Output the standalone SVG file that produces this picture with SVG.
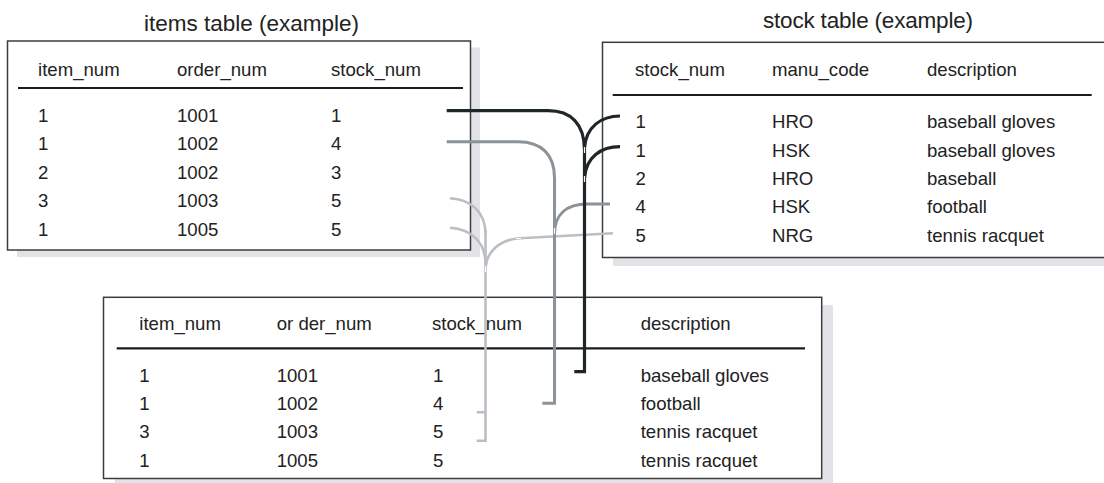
<svg xmlns="http://www.w3.org/2000/svg" width="1104" height="483" viewBox="0 0 1104 483">
<style>
  .t { font-family: "Liberation Sans", Arial, sans-serif; font-size: 18.6px; fill: #222; }
  .title { font-family: "Liberation Sans", Arial, sans-serif; font-size: 22.5px; fill: #222; }
  .box { fill: #fff; stroke: #3c3c3c; stroke-width: 1.5; }
  .shadow { fill: #e3e3e7; stroke: none; }
  .rule { stroke: #1c1c1c; stroke-width: 2.2; fill: none; }
  .c-dark { stroke: #1f2628; stroke-width: 3.2; fill: none; }
  .c-mid { stroke: #8b9298; stroke-width: 3; fill: none; }
  .c-light { stroke: #b9bfc5; stroke-width: 2.6; fill: none; }
  .gap { stroke: #fff; stroke-width: 1.2; fill: none; }
</style>
<rect width="1104" height="483" fill="#fff"/>

<g id="items-table">
  <text class="title" x="144" y="31" textLength="215" lengthAdjust="spacing">items table (example)</text>
  <rect class="shadow" x="17" y="47.5" width="463" height="209.5"/>
  <rect class="box" x="7.5" y="41" width="463" height="209"/>
  <text class="t" x="38" y="75.5">item_num</text>
  <text class="t" x="177" y="75.5">order_num</text>
  <text class="t" x="331" y="75.5">stock_num</text>
  <line class="rule" x1="18" y1="88" x2="463" y2="88"/>
  <text class="t" x="38" y="121.5">1</text><text class="t" x="177" y="121.5">1001</text><text class="t" x="331" y="121.5">1</text>
  <text class="t" x="38" y="150">1</text><text class="t" x="177" y="150">1002</text><text class="t" x="331" y="150">4</text>
  <text class="t" x="38" y="178.5">2</text><text class="t" x="177" y="178.5">1002</text><text class="t" x="331" y="178.5">3</text>
  <text class="t" x="38" y="207">3</text><text class="t" x="177" y="207">1003</text><text class="t" x="331" y="207">5</text>
  <text class="t" x="38" y="235.5">1</text><text class="t" x="177" y="235.5">1005</text><text class="t" x="331" y="235.5">5</text>
</g>

<g id="stock-table">
  <text class="title" x="763" y="28" textLength="210" lengthAdjust="spacing">stock table (example)</text>
  <rect class="shadow" x="613" y="50" width="520" height="216"/>
  <rect class="box" x="602.5" y="42.3" width="520" height="215.2"/>
  <text class="t" x="635" y="76">stock_num</text>
  <text class="t" x="772" y="76">manu_code</text>
  <text class="t" x="927" y="76">description</text>
  <line class="rule" x1="612.7" y1="95" x2="1091.7" y2="95"/>
  <text class="t" x="635.5" y="128.3">1</text><text class="t" x="772" y="128.3">HRO</text><text class="t" x="927" y="128.3">baseball gloves</text>
  <text class="t" x="635.5" y="156.7">1</text><text class="t" x="772" y="156.7">HSK</text><text class="t" x="927" y="156.7">baseball gloves</text>
  <text class="t" x="635.5" y="185">2</text><text class="t" x="772" y="185">HRO</text><text class="t" x="927" y="185">baseball</text>
  <text class="t" x="635.5" y="213.3">4</text><text class="t" x="772" y="213.3">HSK</text><text class="t" x="927" y="213.3">football</text>
  <text class="t" x="635.5" y="241.7">5</text><text class="t" x="772" y="241.7">NRG</text><text class="t" x="927" y="241.7">tennis racquet</text>
</g>

<g id="result-table">
  <rect class="shadow" x="115" y="305" width="718" height="190"/>
  <rect class="box" x="103.5" y="297.3" width="718.2" height="181.2"/>
  <text class="t" x="139.3" y="330">item_num</text>
  <text class="t" x="276.7" y="330">or der_num</text>
  <text class="t" x="432" y="330">stock_num</text>
  <text class="t" x="640.7" y="330">description</text>
  <line class="rule" x1="116.7" y1="348.3" x2="805" y2="348.3"/>
  <text class="t" x="139.3" y="381.7">1</text><text class="t" x="276.7" y="381.7">1001</text><text class="t" x="433" y="381.7">1</text><text class="t" x="640.7" y="381.7">baseball gloves</text>
  <text class="t" x="139.3" y="410">1</text><text class="t" x="276.7" y="410">1002</text><text class="t" x="433" y="410">4</text><text class="t" x="640.7" y="410">football</text>
  <text class="t" x="139.3" y="438.3">3</text><text class="t" x="276.7" y="438.3">1003</text><text class="t" x="433" y="438.3">5</text><text class="t" x="640.7" y="438.3">tennis racquet</text>
  <text class="t" x="139.3" y="467">1</text><text class="t" x="276.7" y="467">1005</text><text class="t" x="433" y="467">5</text><text class="t" x="640.7" y="467">tennis racquet</text>
</g>

<g id="connectors">
  <path class="c-light" d="M450,198.3 C471,199.5 485.5,212 485.5,234"/>
  <path class="c-light" d="M450,227.7 C471,229 485.5,242 485.5,264"/>
  <path class="c-light" d="M613,233.3 L520,238.3 C500,239.5 486,251 485.5,270"/>
  <path class="c-light" d="M485.5,230 V440.7 H476.7 M485.5,412.3 H476.7"/>
  <path class="c-mid" d="M446.7,141.7 H518 C541,141.7 554.5,154 554.5,178 V403.3 H542.3"/>
  <path class="c-mid" d="M610,204 H587 C567,204 554.5,214 554.5,234"/>
  <path class="c-dark" d="M446.7,110.7 H548 C571,110.7 584.5,124 584.5,150 V371.7 H574.3"/>
  <path class="c-dark" d="M620,116 C601,116 586,127 584.5,148"/>
  <path class="c-dark" d="M620,146.7 C601,146.7 586,157 584.5,178"/>
  <path class="gap" d="M584.5,147 V153 M584.5,176 V182 M554.5,228 V234 M516,238.5 H521 M485.5,266 V272"/>
</g>
</svg>
